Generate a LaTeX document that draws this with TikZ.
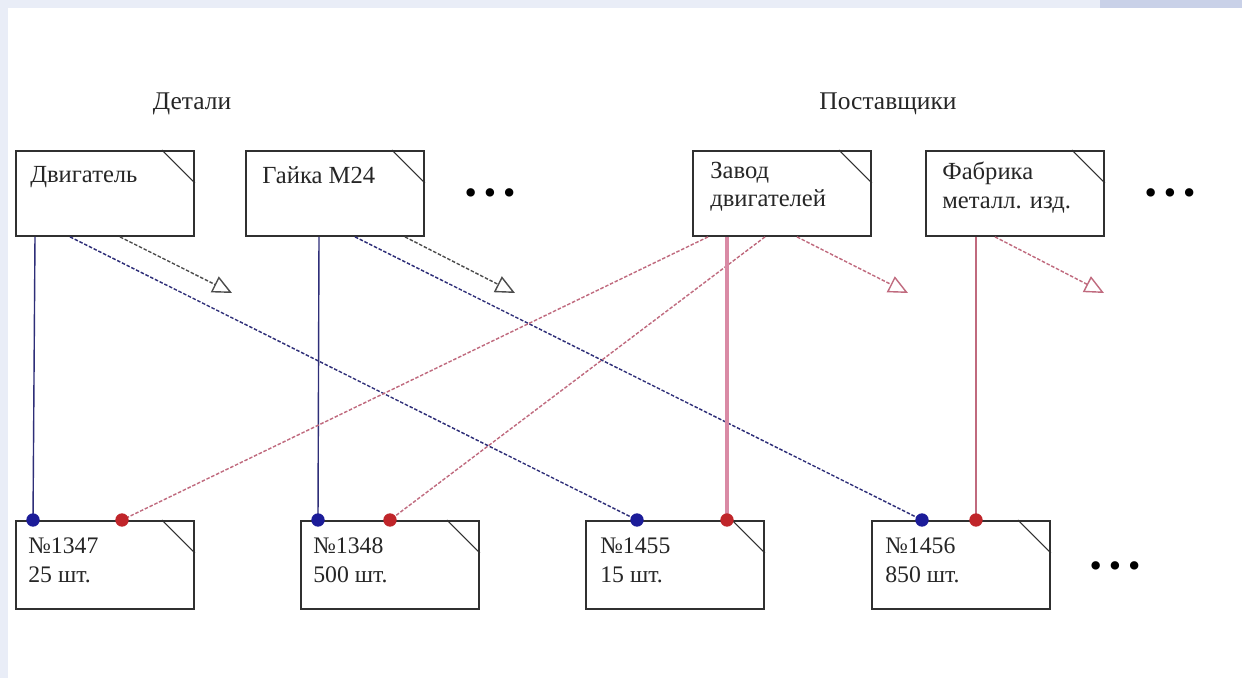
\documentclass[tikz,border=0pt]{standalone}
\usepackage{fontspec}
\setmainfont{Liberation Serif}
\usetikzlibrary{arrows.meta,calc}
\definecolor{boxline}{HTML}{303030}
\definecolor{bluel}{HTML}{2E2E78}
\definecolor{redl}{HTML}{C06A7E}
\definecolor{pinkl}{HTML}{D98AA5}
\definecolor{bluedot}{HTML}{1C1C99}
\definecolor{reddot}{HTML}{C0252A}
\definecolor{bgblue}{HTML}{E9EDF7}
\definecolor{bgcorner}{HTML}{C9D1E8}
\tikzset{
  x=0.02cm, y=-0.02cm,
  box/.style={draw=boxline, line width=1.1pt, fill=white, rectangle, anchor=north west,
    minimum width=3.56cm, minimum height=1.7cm, inner sep=0pt},
  lowbox/.style={box, minimum height=1.76cm},
  boxtext/.style={anchor=north west, align=left, inner sep=0pt, font=\fontsize{14}{16}\selectfont, text=black!85},
  lowtext/.style={boxtext, font=\fontsize{13.5}{17}\selectfont},
  fold/.style={draw=boxline, line width=0.6pt},
  head/.style={font=\fontsize{14.5}{16}\selectfont, text=black!85},
  bluesolid/.style={draw=bluel, line width=0.8pt},
  bluedash/.style={draw=bluel, line width=0.8pt, dash pattern=on 2pt off 1pt},
  reddash/.style={draw=redl, line width=0.8pt, dash pattern=on 2pt off 1pt},
  redsolid/.style={draw=redl, line width=0.8pt},
  pinkthick/.style={draw=pinkl, line width=2.3pt},
  darrow/.style={draw=black!70, line width=0.8pt, dash pattern=on 2pt off 1pt,
    -{Triangle[open, length=11pt, width=10pt, line width=0.8pt]}},
  rarrow/.style={darrow, draw=redl},
  bdot/.style={fill=bluedot},
  rdot/.style={fill=reddot},
  more/.style={font=\fontsize{20}{20}\selectfont, text=black}
}
\newcommand{\foldmark}[1]{\draw[fold] ($(#1.north east)+(-33,0)$) -- ($(#1.north east)+(0,33)$);}
\begin{document}
\begin{tikzpicture}
\useasboundingbox (0,0) rectangle (1242,678);
\fill[white] (0,0) rectangle (1242,678);
\fill[bgblue] (0,0) rectangle (1242,8);
\fill[bgblue] (0,0) rectangle (8,678);
\fill[bgcorner] (1100,0) rectangle (1242,8);

% headings
\node[head] (hdet) at (192,104) {Детали};
\node[head] (hpost) at (888,104) {Поставщики};

% top boxes
\node[box] (d1) at (15,150) {};
\node[box] (d2) at (245,150) {};
\node[box] (s1) at (692,150) {};
\node[box] (s2) at (925,150) {};
\node[boxtext] (td1) at (30,166) {Двигатель};
\node[boxtext] (td2) at (262,166) {Гайка М24};
\node[boxtext] (ts1) at (710,162) {Завод\\двигателей};
\node[boxtext] (ts2) at (942,162) {Фабрика\\металл. изд.};

% bottom boxes
\node[lowbox] (o1) at (15,520) {};
\node[lowbox] (o2) at (300,520) {};
\node[lowbox] (o3) at (585,520) {};
\node[lowbox] (o4) at (871,520) {};
\node[lowtext] (to1) at (28,537) {№1347\\25 шт.};
\node[lowtext] (to2) at (313,537) {№1348\\500 шт.};
\node[lowtext] (to3) at (600,537) {№1455\\15 шт.};
\node[lowtext] (to4) at (885,537) {№1456\\850 шт.};

\foreach \b in {d1,d2,s1,s2,o1,o2,o3,o4} {\foldmark{\b}}

% ellipses
\node[more] (m1) at (490,197) {•\hspace{4pt}•\hspace{4pt}•};
\node[more] (m2) at (1170,197) {•\hspace{4pt}•\hspace{4pt}•};
\node[more] (m3) at (1115,570) {•\hspace{4pt}•\hspace{4pt}•};

% free ends of arrows
\coordinate (a1) at (232,293);
\coordinate (a2) at (515,293);
\coordinate (a3) at (908,293);
\coordinate (a4) at (1104,293);

% connection points
\coordinate (p11) at ($(o1.north west)+(18,0)$);
\coordinate (p13) at ($(o3.north west)+(52,0)$);
\coordinate (p22) at ($(o2.north west)+(18,0)$);
\coordinate (p24) at ($(o4.north west)+(51,0)$);
\coordinate (q11) at ($(o1.north west)+(107,0)$);
\coordinate (q12) at ($(o2.north west)+(90,0)$);
\coordinate (q13) at ($(o3.north west)+(142,0)$);
\coordinate (q24) at ($(o4.north west)+(105,0)$);

% part lines (blue)
\draw[bluesolid] ($(d1.south west)+(20,0)$) -- (p11);
\draw[bluedash] ($(d1.south west)+(55,0)$) -- (p13);
\draw[bluesolid] ($(d2.south west)+(74,0)$) -- (p22);
\draw[bluedash] ($(d2.south west)+(110,0)$) -- (p24);

% supplier lines (red)
\draw[reddash] ($(s1.south west)+(16,0)$) -- (q11);
\draw[reddash] ($(s1.south west)+(73,0)$) -- (q12);
\draw[pinkthick] ($(s1.south west)+(35,0)$) -- (q13);
\draw[redsolid] ($(s2.south west)+(51,0)$) -- (q24);

% short arrows
\draw[darrow] ($(d1.south west)+(105,0)$) -- (a1);
\draw[darrow] ($(d2.south west)+(160,0)$) -- (a2);
\draw[rarrow] ($(s1.south west)+(105,0)$) -- (a3);
\draw[rarrow] ($(s2.south west)+(70,0)$) -- (a4);

% dots
\foreach \p in {p11,p13,p22,p24} {\fill[bdot] (\p) circle[radius=3.8pt];}
\foreach \p in {q11,q12,q13,q24} {\fill[rdot] (\p) circle[radius=3.8pt];}
\end{tikzpicture}
\end{document}
